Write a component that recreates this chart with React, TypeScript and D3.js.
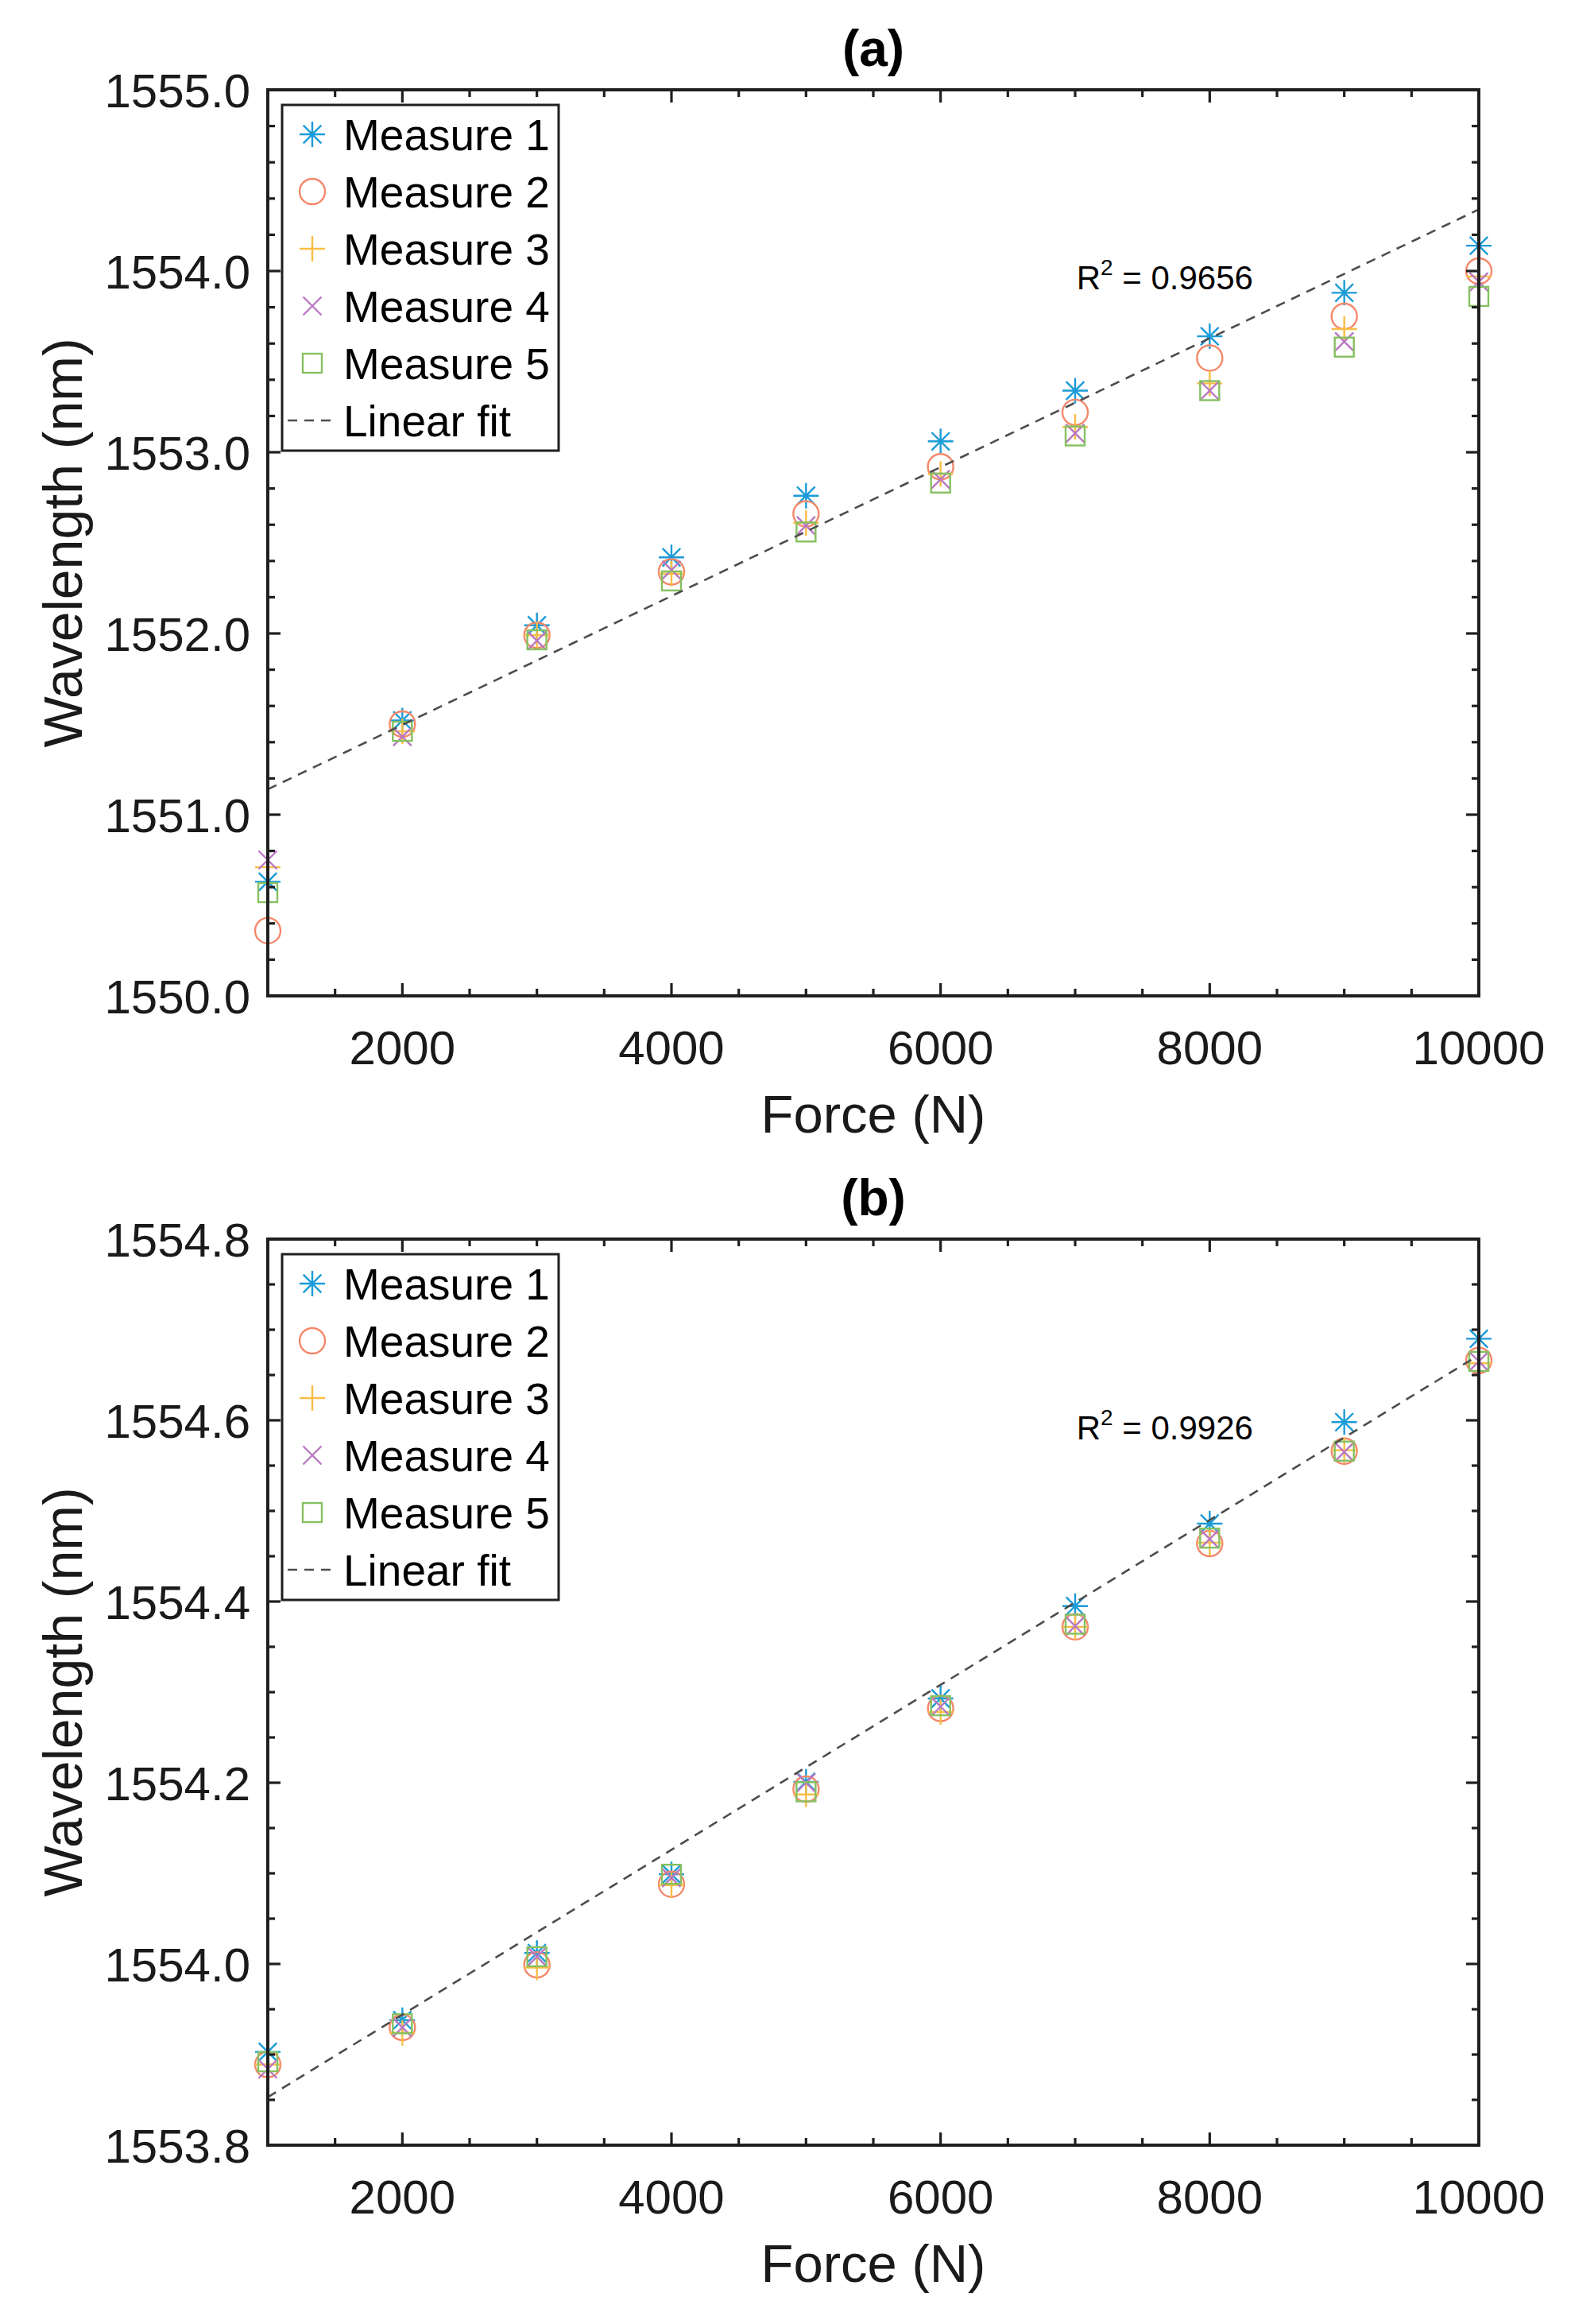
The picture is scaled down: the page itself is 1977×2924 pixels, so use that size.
import React, { useEffect, useRef } from 'react';
import * as d3 from 'd3';

// ---- data ----
const forces = [1000, 2000, 3000, 4000, 5000, 6000, 7000, 8000, 9000, 10000];

const seriesNames = ['Measure 1', 'Measure 2', 'Measure 3', 'Measure 4', 'Measure 5'];
const seriesColors = ['#1b9bd8', '#f4886b', '#f9bd44', '#b878c1', '#86c061'];
const seriesMarkers = ['star', 'circle', 'plus', 'cross', 'square'];

const aMeasure1 = [1550.63, 1551.52, 1552.045, 1552.42, 1552.76, 1553.06, 1553.34, 1553.64, 1553.88, 1554.14];
const aMeasure2 = [1550.36, 1551.5, 1551.99, 1552.34, 1552.66, 1552.92, 1553.22, 1553.52, 1553.75, 1554.0];
const aMeasure3 = [1550.71, 1551.46, 1551.99, 1552.33, 1552.61, 1552.88, 1553.14, 1553.38, 1553.68, 1553.97];
const aMeasure4 = [1550.75, 1551.43, 1551.96, 1552.35, 1552.595, 1552.85, 1553.105, 1553.34, 1553.61, 1553.94];
const aMeasure5 = [1550.57, 1551.46, 1551.965, 1552.29, 1552.56, 1552.83, 1553.09, 1553.34, 1553.58, 1553.86];
const aFit = [[1000, 1551.14], [10000, 1554.34]];

const bMeasure1 = [1553.903, 1553.938, 1554.012, 1554.099, 1554.201, 1554.293, 1554.395, 1554.486, 1554.598, 1554.69];
const bMeasure2 = [1553.889, 1553.93, 1553.999, 1554.088, 1554.193, 1554.282, 1554.372, 1554.464, 1554.566, 1554.666];
const bMeasure3 = [1553.889, 1553.924, 1553.996, 1554.087, 1554.187, 1554.278, 1554.372, 1554.465, 1554.567, 1554.663];
const bMeasure4 = [1553.884, 1553.93, 1554.008, 1554.095, 1554.2, 1554.284, 1554.373, 1554.469, 1554.565, 1554.665];
const bMeasure5 = [1553.892, 1553.934, 1554.008, 1554.099, 1554.19, 1554.285, 1554.375, 1554.47, 1554.566, 1554.665];
const bFit = [[1000, 1553.853], [10000, 1554.672]];

const xMajorTicks = [2000, 4000, 6000, 8000, 10000];
const aYTicks = [1550, 1551, 1552, 1553, 1554, 1555];
const bYTicks = [1553.8, 1554.0, 1554.2, 1554.4, 1554.6, 1554.8];

const FONT = '"Liberation Sans", Arial, Helvetica, sans-serif';
const AXIS = '#1f1f1f';

interface PanelConfig {
  title: string;
  top: number;
  yDomain: [number, number];
  yTicks: number[];
  yMinorStep: number;
  series: number[][];
  fit: number[][];
  r2: string;
  r2At: [number, number];
}

function drawMarker(g: d3.Selection<SVGGElement, unknown, null, undefined>, kind: string, x: number, y: number, color: string) {
  const sw = 2.4;
  const m = g.append('g').attr('transform', `translate(${x},${y})`).attr('stroke', color).attr('stroke-width', sw).attr('fill', 'none');
  if (kind === 'circle') {
    m.append('circle').attr('r', 16);
  } else if (kind === 'square') {
    m.append('rect').attr('x', -12).attr('y', -12).attr('width', 24).attr('height', 24);
  } else if (kind === 'plus') {
    m.append('path').attr('d', 'M-16,0H16M0,-16V16');
  } else if (kind === 'cross') {
    m.append('path').attr('d', 'M-11.5,-11.5L11.5,11.5M-11.5,11.5L11.5,-11.5');
  } else {
    const d = 11.3;
    m.append('path').attr('d', `M-16,0H16M0,-16V16M${-d},${-d}L${d},${d}M${-d},${d}L${d},${-d}`);
  }
}

function drawPanel(root: d3.Selection<SVGSVGElement, unknown, null, undefined>, cfg: PanelConfig) {
  const left = 337;
  const width = 1524;
  const height = 1140;

  const g = root.append('g').attr('transform', `translate(${left},${cfg.top})`);

  const x = d3.scaleLinear().domain([1000, 10000]).range([0, width]);
  const y = d3.scaleLinear().domain(cfg.yDomain).range([height, 0]);

  // markers, series by series
  cfg.series.forEach((vals, si) => {
    const sg = g.append('g');
    vals.forEach((v, i) => drawMarker(sg, seriesMarkers[si], x(forces[i]), y(v), seriesColors[si]));
  });

  // linear fit
  const line = d3.line<number[]>().x(d => x(d[0])).y(d => y(d[1]));
  g.append('path')
    .datum(cfg.fit)
    .attr('d', line)
    .attr('fill', 'none')
    .attr('stroke', '#4d4d4d')
    .attr('stroke-width', 2.6)
    .attr('stroke-dasharray', '12,9');

  // R^2 label
  const r2 = g.append('text')
    .attr('x', x(cfg.r2At[0]))
    .attr('y', y(cfg.r2At[1]))
    .attr('font-family', FONT)
    .attr('font-size', 42)
    .attr('fill', '#000');
  r2.append('tspan').text('R');
  r2.append('tspan').attr('font-size', 28).attr('dy', -18).text('2');
  r2.append('tspan').attr('dy', 18).text(` = ${cfg.r2}`);

  // ticks (inward, all four sides)
  const majorLen = 16;
  const minorLen = 9;
  const xMinor = d3.range(1500, 10000, 500).filter(t => t % 2000 !== 0);
  const tk = g.append('g').attr('stroke', AXIS).attr('stroke-width', 3.2);
  xMinor.forEach(t => {
    tk.append('line').attr('x1', x(t)).attr('x2', x(t)).attr('y1', height).attr('y2', height - minorLen);
    tk.append('line').attr('x1', x(t)).attr('x2', x(t)).attr('y1', 0).attr('y2', minorLen);
  });
  xMajorTicks.forEach(t => {
    tk.append('line').attr('x1', x(t)).attr('x2', x(t)).attr('y1', height).attr('y2', height - majorLen);
    tk.append('line').attr('x1', x(t)).attr('x2', x(t)).attr('y1', 0).attr('y2', majorLen);
  });
  const [y0, y1] = cfg.yDomain;
  const nMinor = Math.round((y1 - y0) / cfg.yMinorStep);
  for (let k = 1; k < nMinor; k++) {
    const v = y0 + k * cfg.yMinorStep;
    const isMajor = cfg.yTicks.some(t => Math.abs(t - v) < 1e-6);
    const len = isMajor ? majorLen : minorLen;
    tk.append('line').attr('x1', 0).attr('x2', len).attr('y1', y(v)).attr('y2', y(v));
    tk.append('line').attr('x1', width).attr('x2', width - len).attr('y1', y(v)).attr('y2', y(v));
  }

  // box
  g.append('rect')
    .attr('width', width)
    .attr('height', height)
    .attr('fill', 'none')
    .attr('stroke', AXIS)
    .attr('stroke-width', 4);

  // tick labels
  xMajorTicks.forEach(t => {
    g.append('text')
      .attr('x', x(t))
      .attr('y', height + 86)
      .attr('text-anchor', 'middle')
      .attr('font-family', FONT)
      .attr('font-size', 60)
      .attr('fill', '#1a1a1a')
      .text(t);
  });
  cfg.yTicks.forEach(t => {
    g.append('text')
      .attr('x', -22)
      .attr('y', y(t) + 22)
      .attr('text-anchor', 'end')
      .attr('font-family', FONT)
      .attr('font-size', 60)
      .attr('fill', '#1a1a1a')
      .text(t.toFixed(1));
  });

  // axis labels and title
  g.append('text')
    .attr('x', width / 2)
    .attr('y', height + 172)
    .attr('text-anchor', 'middle')
    .attr('font-family', FONT)
    .attr('font-size', 67)
    .attr('fill', '#1a1a1a')
    .text('Force (N)');
  g.append('text')
    .attr('transform', `translate(${103 - left},${height / 2}) rotate(-90)`)
    .attr('text-anchor', 'middle')
    .attr('font-family', FONT)
    .attr('font-size', 68)
    .attr('fill', '#1a1a1a')
    .text('Wavelength (nm)');
  g.append('text')
    .attr('x', width / 2)
    .attr('y', -30)
    .attr('text-anchor', 'middle')
    .attr('font-family', FONT)
    .attr('font-size', 64)
    .attr('font-weight', 'bold')
    .attr('fill', '#000')
    .text(cfg.title);

  // legend
  const lg = g.append('g').attr('transform', 'translate(18,19)');
  lg.append('rect')
    .attr('width', 348)
    .attr('height', 435)
    .attr('fill', '#fff')
    .attr('stroke', AXIS)
    .attr('stroke-width', 3);
  const rows = [...seriesNames, 'Linear fit'];
  rows.forEach((name, i) => {
    const cy = 37 + i * 72;
    if (i < seriesNames.length) {
      drawMarker(lg, seriesMarkers[i], 38, cy, seriesColors[i]);
    } else {
      lg.append('line')
        .attr('x1', 7).attr('x2', 70).attr('y1', cy).attr('y2', cy)
        .attr('stroke', '#4d4d4d').attr('stroke-width', 2.6).attr('stroke-dasharray', '12,9');
    }
    lg.append('text')
      .attr('x', 77)
      .attr('y', cy + 20)
      .attr('font-family', FONT)
      .attr('font-size', 55)
      .attr('fill', '#000')
      .text(name);
  });
}

export default function App() {
  const svgRef = useRef<SVGSVGElement>(null);

  useEffect(() => {
    if (!svgRef.current) return;
    const svg = d3.select(svgRef.current);
    svg.selectAll('*').remove();

    svg.append('rect').attr('width', 1977).attr('height', 2924).attr('fill', '#fff');

    drawPanel(svg, {
      title: '(a)',
      top: 113,
      yDomain: [1550, 1555],
      yTicks: aYTicks,
      yMinorStep: 0.2,
      series: [aMeasure1, aMeasure2, aMeasure3, aMeasure4, aMeasure5],
      fit: aFit,
      r2: '0.9656',
      r2At: [7010, 1553.9],
    });

    drawPanel(svg, {
      title: '(b)',
      top: 1559,
      yDomain: [1553.8, 1554.8],
      yTicks: bYTicks,
      yMinorStep: 0.05,
      series: [bMeasure1, bMeasure2, bMeasure3, bMeasure4, bMeasure5],
      fit: bFit,
      r2: '0.9926',
      r2At: [7010, 1554.579],
    });
  }, []);

  return (
    <div style={{ position: 'absolute', left: 0, top: 0 }}>
      <svg ref={svgRef} width={1977} height={2924} style={{ display: 'block' }}></svg>
    </div>
  );
}
